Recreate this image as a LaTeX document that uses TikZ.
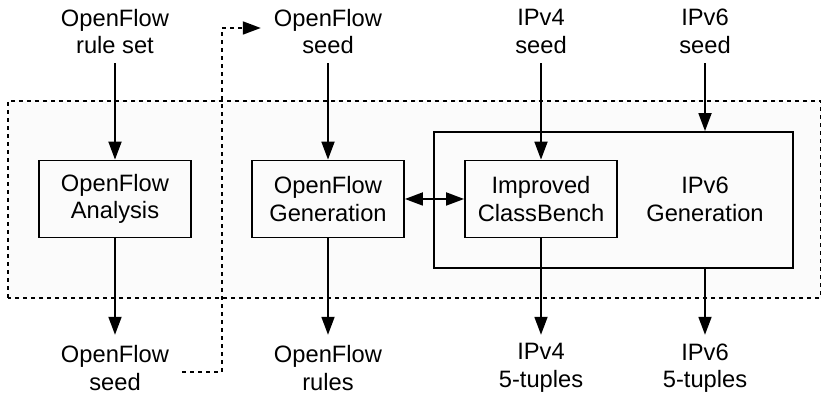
\documentclass[tikz,border=0pt]{standalone}
\usepackage{fontspec}
\setmainfont{Liberation Sans}
\usetikzlibrary{positioning,arrows.meta}

\begin{document}
\begin{tikzpicture}[
  x=1pt, y=1pt,
  font=\fontsize{23.7pt}{27.5pt}\selectfont,
  box/.style={draw,line width=1.8pt,minimum width=152pt,minimum height=77pt,align=center,inner sep=0pt},
  lbl/.style={align=center,inner xsep=13pt,inner ysep=0pt,minimum height=50pt},
  arr/.style={-{Triangle[length=18pt,width=13pt]},line width=1.8pt},
  inarr/.style={arr,shorten <=6.5pt},
  outarr/.style={arr,shorten >=8pt},
  dotarr/.style={arr,dash pattern=on 4pt off 4pt},
]
\useasboundingbox (0,0) rectangle (823,395);

% dotted region
\draw[dash pattern=on 4pt off 4pt,line width=1.8pt,fill=black!1.5] (8,97) rectangle (820.5,294);

% boxes
\node[box] (ofa) at (115,196) {OpenFlow\\Analysis};
\node[box] (ofg) at (328,196) {OpenFlow\\Generation};
\node[box,minimum width=359pt,minimum height=136pt] (v6g) at (613.5,195) {};
\node[box] (icb) at (541,196) {Improved\\ClassBench};
\node[align=center] (v6name) at (705,195.5) {IPv6\\Generation};

% inputs
\node[lbl] (rs)  at (115,363.5) {OpenFlow\\rule set};
\node[lbl] (st)  at (328,363.5) {OpenFlow\\seed};
\node[lbl] (v4s) at (541,363.5) {IPv4\\seed};
\node[lbl] (v6s) at (705,363.5) {IPv6\\seed};

% outputs
\node[lbl] (sb)  at (115,27) {OpenFlow\\seed};
\node[lbl] (ofr) at (328,27) {OpenFlow\\rules};
\node[lbl] (v4t) at (541,27) {IPv4\\5-tuples};
\node[lbl] (v6t) at (705,27) {IPv6\\5-tuples};

\draw[inarr] (rs) -- (ofa);
\draw[inarr] (st) -- (ofg);
\draw[inarr] (v4s) -- (icb);
\draw[inarr] (v6s.south) -- (v6s.south |- v6g.north);

\draw[outarr] (ofa) -- (sb);
\draw[outarr] (ofg) -- (ofr);
\draw[outarr] (icb) -- (v4t);
\draw[outarr] (v6t.north |- v6g.south) -- (v6t.north);

\draw[arr,{Triangle[length=18pt,width=13pt]}-{Triangle[length=18pt,width=13pt]}] (ofg) -- (icb);

% seed loop
\coordinate (jog) at (222,200);
\draw[dotarr] ([yshift=-4pt]sb.east) -| (jog) |- ([yshift=3.5pt]st.west);
\end{tikzpicture}
\end{document}
